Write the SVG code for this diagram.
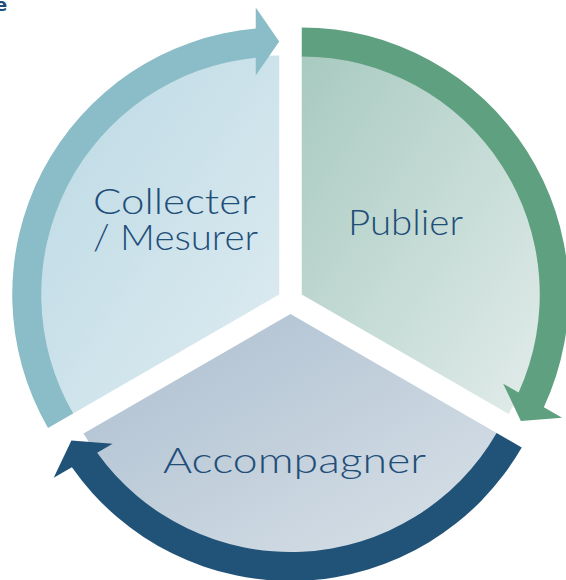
<svg xmlns="http://www.w3.org/2000/svg" width="566" height="580" viewBox="0 0 566 580">
  <defs>
    <linearGradient id="gCollecter" x1="0" y1="0" x2="1" y2="1">
      <stop offset="0" stop-color="#BBD9E4"/>
      <stop offset="1" stop-color="#DFECF1"/>
    </linearGradient>
    <linearGradient id="gPublier" x1="0" y1="0" x2="1" y2="1">
      <stop offset="0" stop-color="#A8CAC0"/>
      <stop offset="1" stop-color="#E2ECEA"/>
    </linearGradient>
    <linearGradient id="gAccompagner" x1="0" y1="0" x2="1" y2="1">
      <stop offset="0" stop-color="#ABBECF"/>
      <stop offset="1" stop-color="#D9E1E8"/>
    </linearGradient>
  </defs>
  <style>
    .lbl { font-family: "Lato", "DejaVu Sans", sans-serif; font-weight: 300; font-size: 35px; fill: #1F4E79; }
    .arrow { stroke: none; }
  </style>
  <rect width="566" height="580" fill="#FFFFFF"/>
  <text x="-5" y="11" style="font-family: 'DejaVu Sans', sans-serif; font-size: 18px; font-weight: bold; fill: #1F4E79;">e</text>

  <g id="node-collecter">
    <path d="M 279.24 294.5 L 72.26 414.0 A 239 239 0 0 1 279.24 55.5 Z" fill="url(#gCollecter)"/>
    <text class="lbl" x="93" y="214" textLength="163" lengthAdjust="spacingAndGlyphs">Collecter</text>
    <text class="lbl" x="93" y="250" textLength="165" lengthAdjust="spacingAndGlyphs">/ Mesurer</text>
  </g>

  <g id="node-publier">
    <path d="M 301.76 294.5 L 301.76 55.5 A 239 239 0 0 1 508.74 414.0 Z" fill="url(#gPublier)"/>
    <text class="lbl" x="348" y="235" textLength="115" lengthAdjust="spacingAndGlyphs">Publier</text>
  </g>

  <g id="node-accompagner">
    <path d="M 290.5 314 L 497.48 433.5 A 239 239 0 0 1 83.52 433.5 Z" fill="url(#gAccompagner)"/>
    <text class="lbl" x="163" y="473" textLength="263" lengthAdjust="spacingAndGlyphs">Accompagner</text>
  </g>

  <g id="connectors">
    <path class="arrow" fill="#8ABDC7" d="M 48.01 428.0 A 267 267 0 0 1 255.74 28.54 L 255.74 7.5 L 279.24 41.5 L 255.74 75.5 L 255.73 57.66 A 238 238 0 0 0 73.13 413.5 Z"/>
    <path class="arrow" fill="#5EA080" d="M 301.76 27.5 A 267 267 0 0 1 543.84 407.13 L 562.06 417.65 L 520.86 421.0 L 503.17 383.65 L 518.62 392.56 A 238 238 0 0 0 301.76 56.5 Z"/>
    <path class="arrow" fill="#215278" d="M 521.73 447.5 A 267 267 0 0 1 71.90 467.31 L 53.70 477.85 L 71.40 440.5 L 112.59 443.85 L 97.15 452.78 A 238 238 0 0 0 496.61 433.0 Z"/>
  </g>
</svg>
